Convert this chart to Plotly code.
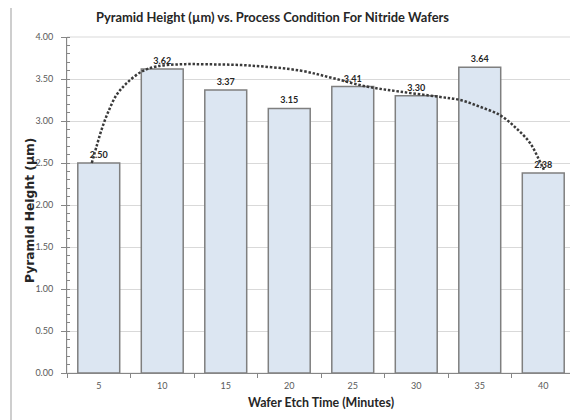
import plotly.graph_objects as go

etch_time = ["5", "10", "15", "20", "25", "30", "35", "40"]
pyramid_height = [2.50, 3.62, 3.37, 3.15, 3.41, 3.30, 3.64, 2.38]
y_ticks = [0.0, 0.5, 1.0, 1.5, 2.0, 2.5, 3.0, 3.5, 4.0]

# dotted trend curve (x in category-index units)
trend_x = [0.89, 0.97, 1.05, 1.15, 1.28, 1.44, 1.68, 1.91, 2.28, 2.70, 3.38, 4.17,
           4.69, 5.22, 5.74, 6.34, 6.69, 7.00, 7.32, 7.58, 7.79, 7.92, 8.01]
trend_y = [2.50, 2.71, 2.91, 3.11, 3.31, 3.45, 3.59, 3.65, 3.675, 3.675, 3.66, 3.60,
           3.51, 3.41, 3.35, 3.29, 3.25, 3.17, 3.07, 2.91, 2.74, 2.56, 2.42]

idx = list(range(1, len(etch_time) + 1))

fig = go.Figure()
fig.add_trace(go.Bar(
    x=idx, y=pyramid_height, width=0.66,
    marker=dict(color="#DCE6F2", line=dict(color="#7F7F7F", width=1.5)),
    text=[f"<b>{v:.2f}</b>" for v in pyramid_height], textposition="outside",
    textfont=dict(family="Lato", size=9, color="#262626"),
    cliponaxis=False, showlegend=False, hoverinfo="skip",
))
fig.add_trace(go.Scatter(
    x=trend_x, y=trend_y, mode="lines",
    line=dict(color="#3A3A3A", width=2.5, dash="2.5px,1.8px", shape="spline", smoothing=1.0),
    showlegend=False, hoverinfo="skip", cliponaxis=False,
))

W, H = 570, 412  # page body adds an 8px offset
fig.update_layout(
    width=W, height=H,
    margin=dict(l=59, r=3, t=29, b=47, autoexpand=False),
    paper_bgcolor="white", plot_bgcolor="white",
    font=dict(family="Lato", color="#595959"),
    title=dict(text="<b>Pyramid Height (µm) vs. Process Condition For Nitride Wafers</b>",
               x=(264.5 - 59) / 508, xref="paper", xanchor="center",
               y=1 - 9 / H, yanchor="middle",
               font=dict(family="Lato", size=12.9, color="#262626")),
    xaxis=dict(range=[0.5, 8.5], tickmode="array", tickvals=idx, ticktext=etch_time,
               ticks="", showgrid=False, zeroline=False,
               showline=True, linecolor="#868686", linewidth=1,
               tickfont=dict(size=9, color="#595959"), ticklabelstandoff=4,
               minor=dict(tickmode="linear", tick0=0.5, dtick=1, ticks="outside",
                          ticklen=4, tickcolor="#868686", showgrid=False),
               title=dict(text="<b>Wafer Etch Time (Minutes)</b>", standoff=8,
                          font=dict(size=12.4, color="#262626"))),
    yaxis=dict(range=[0, 4], tickmode="array", tickvals=y_ticks, tickformat=".2f",
               ticks="outside", ticklen=5, tickcolor="#868686",
               showgrid=True, gridcolor="#D9D9D9", gridwidth=1, zeroline=False,
               showline=True, linecolor="#868686", linewidth=1,
               tickfont=dict(size=9, color="#595959"), ticklabelstandoff=6,
               minor=dict(dtick=0.1, ticks="inside", ticklen=3, tickcolor="#868686", showgrid=False)),
    annotations=[dict(text="<b>Pyramid Height (µm)</b>", textangle=-90,
                      xref="paper", yref="paper", x=(30 - 67) / 508, y=(373 - 211) / 336,
                      xanchor="center", yanchor="middle", showarrow=False,
                      font=dict(family="DejaVu Sans", size=12.3, color="#262626"))],
    shapes=[
        dict(type="rect", xref="paper", yref="paper", x0=0, x1=1, y0=0, y1=1,
             line=dict(color="#D9D9D9", width=1), layer="below"),
        dict(type="rect", xref="paper", yref="paper",
             x0=(11 - 67) / 508, x1=(576.5 - 67) / 508, y0=(373 - 430) / 336, y1=(373 - 1.5) / 336,
             line=dict(color="#BFBFBF", width=1.5), layer="below"),
    ],
)
fig.write_html("out.html")
